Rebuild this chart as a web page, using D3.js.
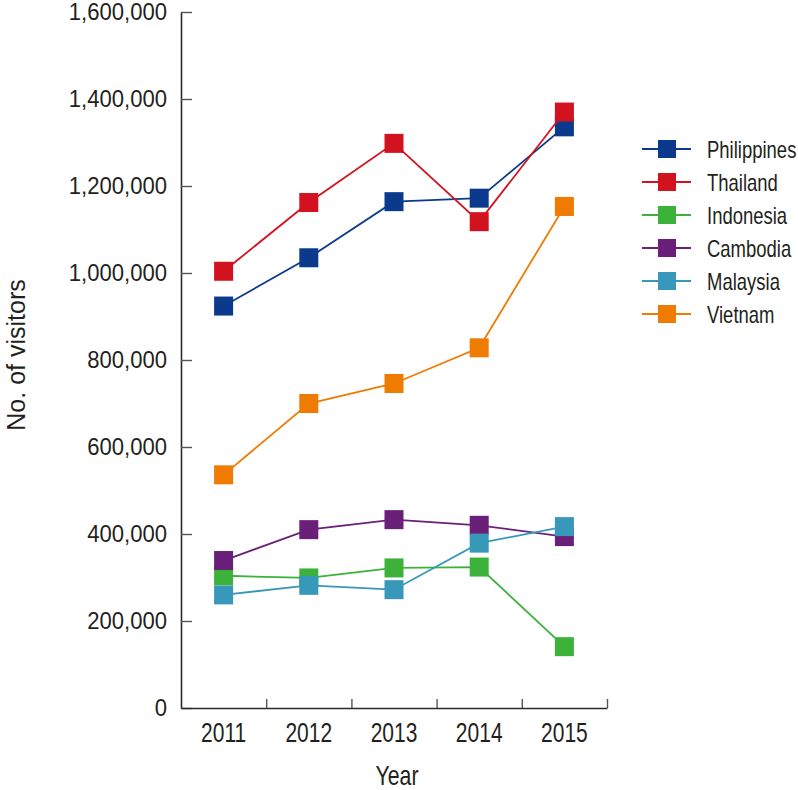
<!DOCTYPE html>
<html>
<head>
<meta charset="utf-8">
<script src="https://cdn.jsdelivr.net/npm/d3@7"></script>
<style>
  html, body { margin: 0; padding: 0; background: #fff; }
  svg text { font-family: "Liberation Sans", Arial, sans-serif; fill: #231f20; }
</style>
</head>
<body>
<svg id="chart" width="798" height="790"></svg>
<script>
const years = ["2011", "2012", "2013", "2014", "2015"];
const seriesNames = ["Philippines", "Thailand", "Indonesia", "Cambodia", "Malaysia", "Vietnam"];
const philippines = [924000, 1035000, 1164000, 1172000, 1336000];
const thailand    = [1004000, 1162000, 1298000, 1118000, 1370000];
const indonesia   = [304000, 299000, 322000, 324000, 141000];
const cambodia    = [339000, 410000, 433000, 420000, 394000];
const malaysia    = [260000, 282000, 272000, 379000, 417000];
const vietnam     = [536000, 700000, 746000, 828000, 1153000];
const yTicks = [0, 200000, 400000, 600000, 800000, 1000000, 1200000, 1400000, 1600000];
const colors = ["#0b3a8c", "#d3121f", "#3cb23a", "#6a1f78", "#3898b9", "#ef7b00"];

const seriesValues = [philippines, thailand, indonesia, cambodia, malaysia, vietnam];
const series = seriesNames.map((name, i) => ({ name, color: colors[i], values: seriesValues[i] }));

const svg = d3.select("#chart");
const mLeft = 181, mRight = 607, mTop = 12, mBottom = 708;

const x = d3.scaleBand().domain(years).range([mLeft, mRight]).padding(0);
const y = d3.scaleLinear().domain([0, 1600000]).range([mBottom, mTop]);
const xb = d3.scaleLinear().domain([0, years.length]).range([mLeft, mRight]);

function condense(sel, f) {
  sel.each(function () {
    const w = this.getComputedTextLength();
    d3.select(this).attr("textLength", w * f).attr("lengthAdjust", "spacingAndGlyphs");
  });
}

// Y axis
const yAxis = svg.append("g").attr("transform", `translate(${mLeft},0)`)
  .call(d3.axisLeft(y).tickValues(yTicks).tickSizeInner(-11).tickSizeOuter(0).tickPadding(14)
    .tickFormat(d3.format(",")));
yAxis.select(".domain").attr("stroke", "#2b2b2b").attr("stroke-width", 1.6);
yAxis.selectAll(".tick line").attr("stroke", "#555").attr("stroke-width", 1.4);
yAxis.selectAll(".tick text").style("font-size", "24px").attr("fill", "#231f20");
condense(yAxis.selectAll(".tick text"), 0.92);

// X axis: boundary ticks
const xAxisB = svg.append("g").attr("transform", `translate(0,${mBottom})`)
  .call(d3.axisBottom(xb).tickValues(d3.range(1, years.length + 1)).tickSizeInner(-9).tickSizeOuter(0).tickFormat(""));
xAxisB.select(".domain").attr("stroke", "#2b2b2b").attr("stroke-width", 1.6);
xAxisB.selectAll(".tick line").attr("stroke", "#555").attr("stroke-width", 1.4);

// X axis labels
const xAxis = svg.append("g").attr("transform", `translate(0,${mBottom})`)
  .call(d3.axisBottom(x).tickSize(0).tickPadding(14));
xAxis.select(".domain").remove();
xAxis.selectAll(".tick text").style("font-size", "28px").attr("fill", "#231f20");
condense(xAxis.selectAll(".tick text"), 0.75);

// Axis titles
const xt = svg.append("text").attr("x", (mLeft + mRight) / 2 + 3).attr("y", 785)
  .attr("text-anchor", "middle").style("font-size", "28px").text("Year");
condense(xt, 0.76);
svg.append("text").attr("transform", "translate(25,355) rotate(-90)")
  .attr("text-anchor", "middle").style("font-size", "25px").text("No. of visitors");

// Lines and markers
const line = d3.line().x((d, i) => x(years[i]) + x.bandwidth() / 2).y(d => y(d));
const ms = 19;
series.forEach(s => {
  const g = svg.append("g");
  g.append("path").datum(s.values).attr("d", line)
    .attr("fill", "none").attr("stroke", s.color).attr("stroke-width", 1.8);
  g.selectAll("rect").data(s.values).join("rect")
    .attr("x", (d, i) => x(years[i]) + x.bandwidth() / 2 - ms / 2)
    .attr("y", d => y(d) - ms / 2)
    .attr("width", ms).attr("height", ms)
    .attr("fill", s.color);
});

// Legend
const legend = svg.append("g");
const legY = d3.scalePoint().domain(seriesNames).range([149, 314]);
series.forEach(s => {
  const cy = legY(s.name);
  legend.append("line").attr("x1", 642).attr("x2", 691).attr("y1", cy).attr("y2", cy)
    .attr("stroke", s.color).attr("stroke-width", 1.8);
  legend.append("rect").attr("x", 667 - 9).attr("y", cy - 9).attr("width", 18).attr("height", 18)
    .attr("fill", s.color);
  const t = legend.append("text").attr("x", 707).attr("y", cy + 9)
    .style("font-size", "24px").text(s.name);
  condense(t, 0.77);
});
</script>
</body>
</html>
